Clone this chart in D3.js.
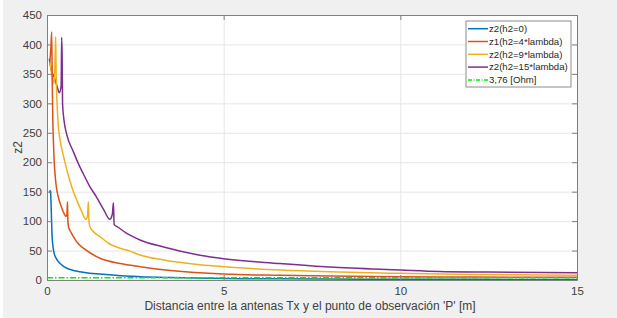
<!DOCTYPE html>
<html>
<head>
<meta charset="utf-8">
<title>z2</title>
<style>
  body { margin: 0; background: #f0f0f0; }
  text { font-family: "Liberation Sans", Arial, sans-serif; }
</style>
</head>
<body>
<script src="https://d3js.org/d3.v7.min.js"></script>
<script>
// data
var xTicks = [0, 5, 10, 15];
var yTicks = [0, 50, 100, 150, 200, 250, 300, 350, 400, 450];

var blueX = [0.08, 0.085, 0.1, 0.12, 0.14, 0.16, 0.2, 0.25, 0.3, 0.37, 0.45, 0.56, 0.7, 0.93, 1.2, 1.5, 2, 2.63, 3.5, 5, 6.5, 8, 10, 12, 15];
var blueY = [148, 152, 150, 120, 80, 62, 46, 38, 33, 28, 24, 20, 17, 14, 11.5, 10, 7.5, 5.7, 4.2, 2.6, 2, 1.6, 1.3, 1.1, 0.9];

var orangeX = [0.085, 0.11, 0.133, 0.15, 0.165, 0.18, 0.2, 0.226, 0.26, 0.32, 0.39, 0.46, 0.54, 0.565, 0.58, 0.59, 0.61, 0.68, 0.745, 0.85, 1.03, 1.25, 1.5, 2.07, 2.63, 3.5, 5, 6.6, 8, 10, 12, 15];
var orangeY = [373, 395, 421, 330, 270, 238, 205, 181, 160, 141, 127, 116, 108, 112, 133, 102, 90, 81, 74, 64, 54, 45, 37, 28, 22.6, 16, 10, 8, 6.8, 5.7, 5, 4.6];

var yellowX = [0.085, 0.12, 0.16, 0.2, 0.23, 0.245, 0.26, 0.28, 0.32, 0.37, 0.46, 0.55, 0.65, 0.74, 0.84, 0.97, 1.1, 1.15, 1.17, 1.19, 1.22, 1.35, 1.5, 1.75, 2.07, 2.35, 2.63, 3.3, 4.33, 5, 6.6, 8, 10, 11.1, 12.5, 15];
var yellowY = [370, 355, 340, 334, 380, 413, 345, 306, 262, 238, 212, 190, 168, 151, 136, 118, 103, 110, 133, 98, 90, 80, 73.6, 62, 54, 49, 42.5, 34, 26, 22.6, 17, 14, 11.3, 10, 9.2, 8.2];

var purpleX = [0.066, 0.12, 0.2, 0.28, 0.35, 0.4, 0.415, 0.43, 0.44, 0.48, 0.56, 0.745, 0.9, 1.03, 1.2, 1.41, 1.6, 1.78, 1.85, 1.88, 1.9, 2.0, 2.26, 2.63, 3.3, 4.33, 5, 6.6, 8, 10, 11.1, 12.5, 15];
var purpleY = [376, 357, 345, 330, 318, 330, 412, 374, 300, 272, 247, 218, 196, 180, 160, 140, 120, 103, 112, 131, 94, 90, 79, 68, 56, 42, 36, 28, 22, 17, 14.5, 13.5, 12.5];

var refValue = 3.76;

var seriesNames = ["z2(h2=0)", "z1(h2=4*lambda)", "z2(h2=9*lambda)", "z2(h2=15*lambda)", "3,76 [Ohm]"];
var seriesColors = ["#0072BD", "#D95319", "#EDB120", "#7E2F8E", "#00ee00"];

var width = 617, height = 318;
var mLeft = 47, mRight = 577, mTop = 15, mBottom = 280;

var svg = d3.select("body").append("svg")
  .attr("width", width)
  .attr("height", height)
  .style("display", "block");

svg.append("rect").attr("width", width).attr("height", height).attr("fill", "#f0f0f0");
svg.append("rect").attr("width", 3).attr("height", height).attr("fill", "#ffffff");

var x = d3.scaleLinear().domain([0, 15]).range([mLeft, mRight]);
var y = d3.scaleLinear().domain([0, 450]).range([mBottom, mTop]);

svg.append("rect")
  .attr("x", mLeft).attr("y", mTop)
  .attr("width", mRight - mLeft).attr("height", mBottom - mTop)
  .attr("fill", "#ffffff");

// grid
var gridX = svg.append("g")
  .attr("transform", "translate(0," + mBottom + ")")
  .call(d3.axisBottom(x).tickValues(xTicks).tickSize(-(mBottom - mTop)).tickFormat(""));
var gridY = svg.append("g")
  .attr("transform", "translate(" + mLeft + ",0)")
  .call(d3.axisLeft(y).tickValues(yTicks).tickSize(-(mRight - mLeft)).tickFormat(""));
[gridX, gridY].forEach(function(g) {
  g.select(".domain").remove();
  g.selectAll("line").attr("stroke", "#e6e6e6").attr("stroke-width", 1);
});

// curves
var line = d3.line()
  .x(function(d) { return x(d[0]); })
  .y(function(d) { return y(d[1]); })
  .curve(d3.curveMonotoneX);

var curves = [[blueX, blueY], [orangeX, orangeY], [yellowX, yellowY], [purpleX, purpleY]];
var plot = svg.append("g");

// draw in reverse so blue is on top
curves.slice().reverse().forEach(function(c, i) {
  var idx = curves.length - 1 - i;
  plot.append("path")
    .datum(d3.zip(c[0], c[1]))
    .attr("d", line)
    .attr("fill", "none")
    .attr("stroke", seriesColors[idx])
    .attr("stroke-width", 1.5)
    .attr("stroke-linejoin", "round");
});

plot.append("path")
  .datum([[0, refValue], [15, refValue]])
  .attr("d", line)
  .attr("fill", "none")
  .attr("stroke", seriesColors[4])
  .attr("stroke-width", 1.4)
  .attr("stroke-dasharray", "6,2,1.5,2");

// axes, ticks pointing inward on all four sides
var axisColor = "#808080";
var labelColor = "#404040";

var xAxis = svg.append("g")
  .attr("transform", "translate(0," + mBottom + ")")
  .call(d3.axisBottom(x).tickValues(xTicks).tickSizeInner(-5).tickSizeOuter(0).tickPadding(7));
var yAxis = svg.append("g")
  .attr("transform", "translate(" + mLeft + ",0)")
  .call(d3.axisLeft(y).tickValues(yTicks).tickSizeInner(-5).tickSizeOuter(0).tickPadding(5));
var xTop = svg.append("g")
  .attr("transform", "translate(0," + mTop + ")")
  .call(d3.axisTop(x).tickValues(xTicks).tickSizeInner(-5).tickSizeOuter(0).tickFormat(""));
var yRight = svg.append("g")
  .attr("transform", "translate(" + mRight + ",0)")
  .call(d3.axisRight(y).tickValues(yTicks).tickSizeInner(-5).tickSizeOuter(0).tickFormat(""));

[xAxis, yAxis, xTop, yRight].forEach(function(g) {
  g.select(".domain").attr("stroke", axisColor);
  g.selectAll(".tick line").attr("stroke", axisColor);
  g.selectAll("text")
    .attr("fill", labelColor)
    .style("font-size", "11.5px")
    .style("font-family", "'Liberation Sans', Arial, sans-serif");
});

// axis titles
svg.append("text")
  .attr("x", 310)
  .attr("y", 310)
  .attr("text-anchor", "middle")
  .attr("fill", labelColor)
  .style("font-size", "12px")
  .text("Distancia entre la antenas Tx y el punto de observación 'P' [m]");

svg.append("text")
  .attr("transform", "translate(22," + ((mTop + mBottom) / 2) + ") rotate(-90)")
  .attr("text-anchor", "middle")
  .attr("fill", labelColor)
  .style("font-size", "12px")
  .text("z2");

// legend
var lg = svg.append("g").attr("transform", "translate(466,21)");
lg.append("rect")
  .attr("width", 105).attr("height", 66)
  .attr("fill", "#ffffff")
  .attr("stroke", "#8c8c8c")
  .attr("stroke-width", 1);

var rows = lg.selectAll("g.row")
  .data(seriesNames)
  .enter().append("g")
  .attr("class", "row")
  .attr("transform", function(d, i) { return "translate(0," + (7.7 + i * 12.8) + ")"; });

rows.append("line")
  .attr("x1", 2).attr("x2", 22)
  .attr("stroke", function(d, i) { return seriesColors[i]; })
  .attr("stroke-width", 1.5)
  .attr("stroke-dasharray", function(d, i) { return i === 4 ? "4,1.5,1,1.5" : null; });

rows.append("text")
  .attr("x", 23)
  .attr("dy", "0.35em")
  .attr("fill", "#262626")
  .style("font-size", "9.6px")
  .text(function(d) { return d; });
</script>
</body>
</html>
